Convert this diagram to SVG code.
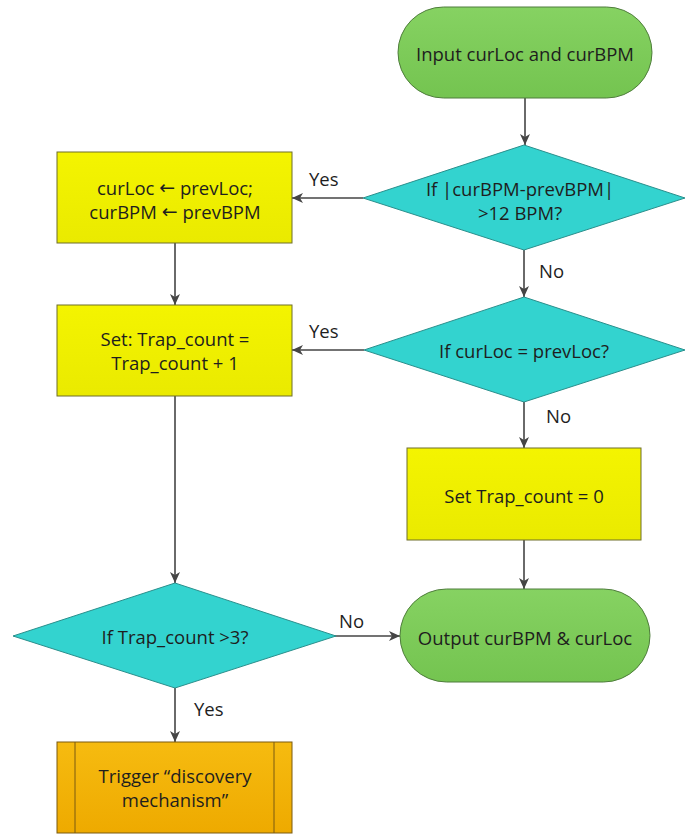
<svg xmlns="http://www.w3.org/2000/svg" width="689" height="836" viewBox="0 0 689 836">
<style>
text{font-family:"Open Sans","Liberation Sans",sans-serif;font-size:18.5px;fill:#1e1e1e;text-anchor:middle;dominant-baseline:central}
.arw{font-family:"DejaVu Sans",sans-serif;font-size:19px}
.term{fill:url(#gGreen);stroke:#4f7d3c;stroke-width:1}
.dec{fill:#33d3cf;stroke:#2a8f8c;stroke-width:1}
.proc{fill:url(#gYellow);stroke:#6f6f2a;stroke-width:1}
.pre{fill:url(#gOrange);stroke:#7a5a10;stroke-width:1}
.conn line{stroke:#454545;stroke-width:1.6;marker-end:url(#arr)}
.lbl{text-anchor:start}
</style>
<defs>
<linearGradient id="gGreen" x1="0" y1="0" x2="0" y2="1"><stop offset="0" stop-color="#86d262"/><stop offset="1" stop-color="#74c450"/></linearGradient>
<linearGradient id="gYellow" x1="0" y1="0" x2="0" y2="1"><stop offset="0" stop-color="#f4f400"/><stop offset="1" stop-color="#eaea00"/></linearGradient>
<linearGradient id="gOrange" x1="0" y1="0" x2="0" y2="1"><stop offset="0" stop-color="#f6bb10"/><stop offset="1" stop-color="#eeaa00"/></linearGradient>
<marker id="arr" markerUnits="userSpaceOnUse" markerWidth="12" markerHeight="10" refX="11" refY="5" orient="auto"><path d="M0,0 L11,5 L0,10 L3,5 Z" fill="#454545"/></marker>
</defs>
<g id="connectors" class="conn">
<line x1="525" y1="98" x2="525" y2="145"/>
<line x1="363" y1="198" x2="292" y2="198"/>
<line x1="175" y1="243" x2="175" y2="305"/>
<line x1="524" y1="250" x2="524" y2="297"/>
<line x1="364" y1="350" x2="292" y2="350"/>
<line x1="524" y1="402" x2="524" y2="448"/>
<line x1="524" y1="540" x2="524" y2="589"/>
<line x1="175" y1="396" x2="175" y2="583"/>
<line x1="335" y1="636" x2="400" y2="636"/>
<line x1="175" y1="688" x2="175" y2="742"/>
</g>
<g id="labels">
<text class="lbl" x="309" y="178">Yes</text>
<text class="lbl" x="539" y="270">No</text>
<text class="lbl" x="309" y="330">Yes</text>
<text class="lbl" x="546" y="415">No</text>
<text class="lbl" x="339" y="620">No</text>
<text class="lbl" x="194" y="708">Yes</text>
</g>
<g id="start">
<rect class="term" x="398" y="7" width="254" height="91" rx="45.5"/>
<text x="525" y="53">Input curLoc and curBPM</text>
</g>
<g id="dec1">
<polygon class="dec" points="524,145 685,198 524,250 363,198"/>
<text x="520" y="188">If |curBPM-prevBPM|</text>
<text x="520" y="212">&gt;12 BPM?</text>
</g>
<g id="box1">
<rect class="proc" x="57" y="152" width="235" height="91"/>
<text x="175" y="187">curLoc <tspan class="arw">←</tspan> prevLoc;</text>
<text x="175" y="211">curBPM <tspan class="arw">←</tspan> prevBPM</text>
</g>
<g id="dec2">
<polygon class="dec" points="524,297 685,350 524,402 364,350"/>
<text x="524" y="350">If curLoc = prevLoc?</text>
</g>
<g id="box2">
<rect class="proc" x="57" y="305" width="235" height="91"/>
<text x="175" y="338">Set: Trap_count =</text>
<text x="175" y="362">Trap_count + 1</text>
</g>
<g id="box3">
<rect class="proc" x="407" y="448" width="234" height="92"/>
<text x="524" y="495">Set Trap_count = 0</text>
</g>
<g id="dec3">
<polygon class="dec" points="175,583 336,636 175,688 13,636"/>
<text x="175" y="636">If Trap_count &gt;3?</text>
</g>
<g id="output">
<rect class="term" x="400" y="589" width="250" height="93" rx="46.5"/>
<text x="525" y="637">Output curBPM &amp; curLoc</text>
</g>
<g id="trigger">
<rect class="pre" x="57" y="742" width="235" height="91"/>
<line x1="75" y1="742" x2="75" y2="833" stroke="#7a5a10" stroke-width="1"/>
<line x1="274" y1="742" x2="274" y2="833" stroke="#7a5a10" stroke-width="1"/>
<text x="175" y="775">Trigger “discovery</text>
<text x="175" y="799">mechanism”</text>
</g>
</svg>
